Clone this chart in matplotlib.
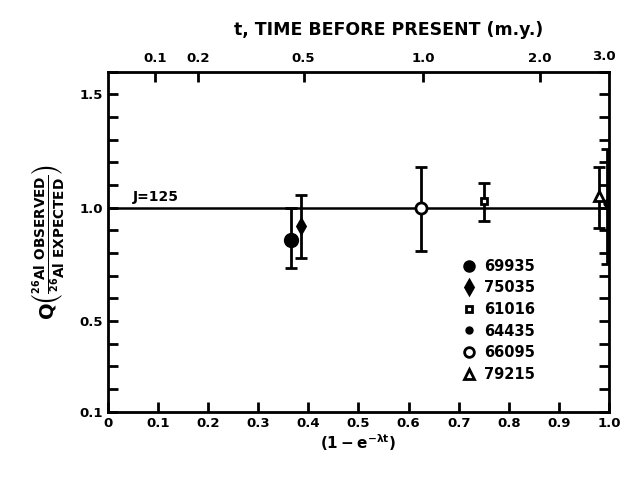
import numpy as np
import matplotlib.pyplot as plt
from matplotlib.lines import Line2D

plt.rcParams.update({
    "font.family": "DejaVu Sans",
    "font.weight": "bold",
    "mathtext.default": "bf",
})

# 26Al decay constant (per m.y.), used for the time scale on top
lam = 0.99

samples = ["69935", "75035", "61016", "64435", "66095", "79215"]
markers = ["o", "d", "s", "o", "o", "^"]
filled = [True, True, False, True, False, False]
msizes = [9, 7, 5, 4, 8, 7]
x_vals = [0.365, 0.385, 0.750, 0.996, 0.625, 0.980]
q_vals = [0.86, 0.92, 1.03, 1.02, 1.00, 1.05]
err_lo = [0.125, 0.14, 0.09, 0.27, 0.19, 0.14]
err_hi = [0.14, 0.135, 0.08, 0.24, 0.18, 0.13]

j_level = 1.0
j_label = "J=125"

time_ticks = [0.1, 0.2, 0.5, 1.0, 2.0]
time_labels = ["0.1", "0.2", "0.5", "1.0", "2.0"]

fig = plt.figure(figsize=(6.24, 4.95), dpi=100)
ax = fig.add_axes([0.173, 0.168, 0.803, 0.687])

ax.axhline(j_level, color="black", lw=1.8, zorder=1)
ax.text(0.05, j_level + 0.015, j_label, fontsize=10, fontweight="bold",
        ha="left", va="bottom")

handles = []
for name, m, f, ms, x, q, lo, hi in zip(samples, markers, filled, msizes,
                                        x_vals, q_vals, err_lo, err_hi):
    face = "black" if f else "white"
    ax.errorbar(x, q, yerr=[[lo], [hi]], fmt=m, ms=ms, color="black",
                mfc=face, mec="black", mew=2, ecolor="black",
                elinewidth=2, capsize=4, capthick=2, zorder=3)
    handles.append(Line2D([], [], ls="none", marker=m, ms=min(ms, 7),
                          mfc=face, mec="black", mew=2, label=name))

ax.set_xlim(0, 1.0)
ax.set_ylim(0.1, 1.6)
ax.set_xticks(np.arange(0, 1.01, 0.1))
ax.set_xticklabels(["0"] + ["%.1f" % v for v in np.arange(0.1, 1.01, 0.1)])
yt = np.arange(0.1, 1.61, 0.1)
ax.set_yticks(yt)
ax.set_yticklabels(["%.1f" % v if round(v * 10) in (1, 5, 10, 15) else ""
                    for v in yt])
ax.tick_params(direction="in", length=7, width=2, labelsize=9.5,
               right=True, top=False)
for s in ax.spines.values():
    s.set_linewidth(2)

top = ax.twiny()
top.set_xlim(0, 1.0)
top.set_xticks([1 - np.exp(-lam * t) for t in time_ticks])
top.set_xticklabels(time_labels)
top.tick_params(direction="in", length=7, width=2, labelsize=9.5, pad=5)
top.text(0.99, 1.025, "3.0", transform=ax.transAxes, fontsize=9.5,
         fontweight="bold", ha="center", va="bottom")
top.set_xlabel("t, TIME BEFORE PRESENT (m.y.)", fontsize=12.5,
               fontweight="bold", labelpad=12, x=0.56)

ax.set_xlabel(r"$(1 - e^{-\lambda t})$", fontsize=11, labelpad=2)
ax.set_ylabel(r"$Q\left(\frac{^{26}\mathrm{Al\ OBSERVED}}"
              r"{^{26}\mathrm{Al\ EXPECTED}}\right)$", fontsize=14,
              labelpad=10)

ax.legend(handles=handles, loc="lower left", bbox_to_anchor=(0.68, 0.05),
          frameon=False, fontsize=10.5, handletextpad=0.5,
          labelspacing=0.45, handlelength=1.0)

fig.savefig("out.png", dpi=100)
